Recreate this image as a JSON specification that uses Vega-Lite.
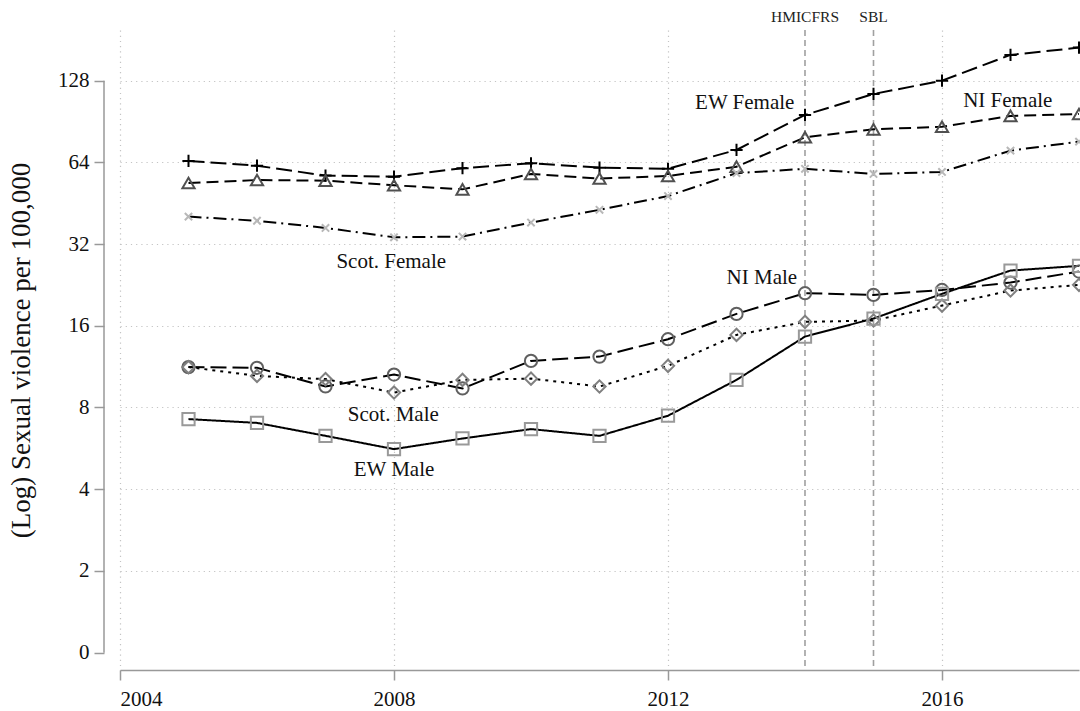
{
  "$schema": "https://vega.github.io/schema/vega-lite/v6.json",
  "width": 959,
  "height": 640,
  "autosize": "none",
  "padding": {"left": 120, "top": 30, "right": 1, "bottom": 41},
  "background": "white",
  "config": {
    "view": {"stroke": null},
    "font": "Liberation Serif"
  },
  "datasets": {
    "rates": [
      {"year": 2005, "series": "EW Female", "value": 64.8},
      {"year": 2006, "series": "EW Female", "value": 62.2},
      {"year": 2007, "series": "EW Female", "value": 57.2},
      {"year": 2008, "series": "EW Female", "value": 56.7},
      {"year": 2009, "series": "EW Female", "value": 60.9},
      {"year": 2010, "series": "EW Female", "value": 63.5},
      {"year": 2011, "series": "EW Female", "value": 61.2},
      {"year": 2012, "series": "EW Female", "value": 60.6},
      {"year": 2013, "series": "EW Female", "value": 71.1},
      {"year": 2014, "series": "EW Female", "value": 95.7},
      {"year": 2015, "series": "EW Female", "value": 114.3},
      {"year": 2016, "series": "EW Female", "value": 128.0},
      {"year": 2017, "series": "EW Female", "value": 159.2},
      {"year": 2018, "series": "EW Female", "value": 169.4},
      {"year": 2005, "series": "NI Female", "value": 53.7},
      {"year": 2006, "series": "NI Female", "value": 55.1},
      {"year": 2007, "series": "NI Female", "value": 54.8},
      {"year": 2008, "series": "NI Female", "value": 52.7},
      {"year": 2009, "series": "NI Female", "value": 50.9},
      {"year": 2010, "series": "NI Female", "value": 58.0},
      {"year": 2011, "series": "NI Female", "value": 55.8},
      {"year": 2012, "series": "NI Female", "value": 57.0},
      {"year": 2013, "series": "NI Female", "value": 61.7},
      {"year": 2014, "series": "NI Female", "value": 79.2},
      {"year": 2015, "series": "NI Female", "value": 84.7},
      {"year": 2016, "series": "NI Female", "value": 86.6},
      {"year": 2017, "series": "NI Female", "value": 94.9},
      {"year": 2018, "series": "NI Female", "value": 96.5},
      {"year": 2005, "series": "Scot. Female", "value": 40.4},
      {"year": 2006, "series": "Scot. Female", "value": 39.0},
      {"year": 2007, "series": "Scot. Female", "value": 36.7},
      {"year": 2008, "series": "Scot. Female", "value": 33.9},
      {"year": 2009, "series": "Scot. Female", "value": 34.1},
      {"year": 2010, "series": "Scot. Female", "value": 38.4},
      {"year": 2011, "series": "Scot. Female", "value": 42.8},
      {"year": 2012, "series": "Scot. Female", "value": 48.1},
      {"year": 2013, "series": "Scot. Female", "value": 58.4},
      {"year": 2014, "series": "Scot. Female", "value": 60.6},
      {"year": 2015, "series": "Scot. Female", "value": 58.0},
      {"year": 2016, "series": "Scot. Female", "value": 59.0},
      {"year": 2017, "series": "Scot. Female", "value": 70.7},
      {"year": 2018, "series": "Scot. Female", "value": 76.3},
      {"year": 2005, "series": "NI Male", "value": 11.27},
      {"year": 2006, "series": "NI Male", "value": 11.2},
      {"year": 2007, "series": "NI Male", "value": 9.56},
      {"year": 2008, "series": "NI Male", "value": 10.58},
      {"year": 2009, "series": "NI Male", "value": 9.4},
      {"year": 2010, "series": "NI Male", "value": 11.88},
      {"year": 2011, "series": "NI Male", "value": 12.32},
      {"year": 2012, "series": "NI Male", "value": 14.28},
      {"year": 2013, "series": "NI Male", "value": 17.7},
      {"year": 2014, "series": "NI Male", "value": 21.1},
      {"year": 2015, "series": "NI Male", "value": 20.79},
      {"year": 2016, "series": "NI Male", "value": 21.69},
      {"year": 2017, "series": "NI Male", "value": 23.09},
      {"year": 2018, "series": "NI Male", "value": 25.34},
      {"year": 2005, "series": "Scot. Male", "value": 11.27},
      {"year": 2006, "series": "Scot. Male", "value": 10.46},
      {"year": 2007, "series": "Scot. Male", "value": 10.18},
      {"year": 2008, "series": "Scot. Male", "value": 9.08},
      {"year": 2009, "series": "Scot. Male", "value": 10.11},
      {"year": 2010, "series": "Scot. Male", "value": 10.22},
      {"year": 2011, "series": "Scot. Male", "value": 9.56},
      {"year": 2012, "series": "Scot. Male", "value": 11.39},
      {"year": 2013, "series": "Scot. Male", "value": 14.81},
      {"year": 2014, "series": "Scot. Male", "value": 16.54},
      {"year": 2015, "series": "Scot. Male", "value": 16.73},
      {"year": 2016, "series": "Scot. Male", "value": 18.99},
      {"year": 2017, "series": "Scot. Male", "value": 21.57},
      {"year": 2018, "series": "Scot. Male", "value": 22.64},
      {"year": 2005, "series": "EW Male", "value": 7.25},
      {"year": 2006, "series": "EW Male", "value": 7.02},
      {"year": 2007, "series": "EW Male", "value": 6.29},
      {"year": 2008, "series": "EW Male", "value": 5.62},
      {"year": 2009, "series": "EW Male", "value": 6.15},
      {"year": 2010, "series": "EW Male", "value": 6.66},
      {"year": 2011, "series": "EW Male", "value": 6.29},
      {"year": 2012, "series": "EW Male", "value": 7.46},
      {"year": 2013, "series": "EW Male", "value": 10.11},
      {"year": 2014, "series": "EW Male", "value": 14.6},
      {"year": 2015, "series": "EW Male", "value": 17.01},
      {"year": 2016, "series": "EW Male", "value": 20.98},
      {"year": 2017, "series": "EW Male", "value": 25.56},
      {"year": 2018, "series": "EW Male", "value": 26.6}
    ],
    "seriesLabels": [
      {"text": "EW Female", "year": 2013.12, "value": 105.9},
      {"text": "NI Female", "year": 2016.96, "value": 107.8},
      {"text": "Scot. Female", "year": 2007.96, "value": 27.5},
      {"text": "NI Male", "year": 2013.37, "value": 24.0},
      {"text": "Scot. Male", "year": 2007.99, "value": 7.52},
      {"text": "EW Male", "year": 2008.0, "value": 4.71}
    ],
    "events": [
      {"year": 2014, "name": "HMICFRS"},
      {"year": 2015, "name": "SBL"}
    ],
    "yAxisSpan": [{"lo": 1, "hi": 128}]
  },
  "layer": [
    {
      "data": {"name": "yAxisSpan"},
      "mark": {"type": "rule", "color": "#999", "strokeWidth": 1.5, "xOffset": -16},
      "encoding": {
        "x": {
          "datum": 2004,
          "type": "quantitative",
          "scale": {"domain": [2004, 2018], "nice": false, "zero": false},
          "axis": {
            "title": null,
            "values": [2004, 2008, 2012, 2016],
            "format": "d",
            "labelFont": "Liberation Serif",
            "labelFontSize": 21,
            "labelColor": "#111",
            "labelPadding": 8,
            "tickSize": 10,
            "tickColor": "#999",
            "tickWidth": 1.5,
            "domainColor": "#999",
            "domainWidth": 1.5,
            "grid": true,
            "gridColor": "#c4c4c4",
            "gridDash": [1.2, 4],
            "gridWidth": 1.2
          }
        },
        "y": {
          "field": "lo",
          "type": "quantitative",
          "scale": {"type": "log", "base": 2, "domain": [0.863, 196.7], "nice": false},
          "axis": {
            "title": "(Log) Sexual violence per 100,000",
            "titleFont": "Liberation Serif",
            "titleFontSize": 27,
            "titleFontWeight": "normal",
            "titleColor": "#111",
            "titlePadding": 22,
            "values": [1, 2, 4, 8, 16, 32, 64, 128],
            "format": "d",
            "labelExpr": "datum.value == 1 ? '0' : datum.label",
            "labelFont": "Liberation Serif",
            "labelFontSize": 21,
            "labelColor": "#111",
            "labelPadding": 5,
            "offset": 16,
            "domain": false,
            "tickSize": 10,
            "tickColor": "#999",
            "tickWidth": 1.5,
            "grid": true,
            "gridColor": "#c4c4c4",
            "gridDash": [1.2, 4],
            "gridWidth": 1.2,
            "gridOpacity": {"condition": {"test": "datum.value == 1", "value": 0}, "value": 1}
          }
        },
        "y2": {"field": "hi"}
      }
    },
    {
      "data": {"name": "events"},
      "mark": {"type": "rule", "color": "#a0a0a0", "strokeWidth": 1.6, "strokeDash": [6, 4]},
      "encoding": {
        "x": {"field": "year", "type": "quantitative"}
      }
    },
    {
      "data": {"name": "events"},
      "mark": {"type": "text", "font": "Liberation Serif", "fontSize": 15.5, "color": "#222", "baseline": "middle", "align": "center"},
      "encoding": {
        "x": {"field": "year", "type": "quantitative"},
        "y": {"datum": 220},
        "text": {"field": "name", "type": "nominal"}
      }
    },
    {
      "data": {"name": "rates"},
      "mark": {"type": "line", "color": "black", "strokeWidth": 2},
      "encoding": {
        "x": {"field": "year", "type": "quantitative"},
        "y": {"field": "value", "type": "quantitative"},
        "detail": {"field": "series"},
        "strokeDash": {
          "field": "series",
          "type": "nominal",
          "scale": {
            "domain": ["EW Female", "NI Female", "Scot. Female", "NI Male", "Scot. Male", "EW Male"],
            "range": [[16, 6], [12, 6], [13, 5, 2, 5], [16, 6], [3, 5], [1, 0]]
          },
          "legend": null
        }
      }
    },
    {
      "data": {"name": "rates"},
      "mark": {"type": "point", "filled": false, "strokeWidth": 2, "opacity": 1},
      "encoding": {
        "x": {"field": "year", "type": "quantitative"},
        "y": {"field": "value", "type": "quantitative"},
        "shape": {
          "field": "series",
          "type": "nominal",
          "scale": {
            "domain": ["EW Female", "NI Female", "Scot. Female", "NI Male", "Scot. Male", "EW Male"],
            "range": ["M-1,0L1,0M0,-1L0,1", "triangle-up", "M-0.6,-0.6L0.6,0.6M-0.6,0.6L0.6,-0.6", "circle", "diamond", "square"]
          },
          "legend": null
        },
        "stroke": {
          "field": "series",
          "type": "nominal",
          "scale": {
            "domain": ["EW Female", "NI Female", "Scot. Female", "NI Male", "Scot. Male", "EW Male"],
            "range": ["#000000", "#505050", "#b8b8b8", "#606060", "#808080", "#999999"]
          },
          "legend": null
        },
        "size": {
          "field": "series",
          "type": "nominal",
          "scale": {
            "domain": ["EW Female", "NI Female", "Scot. Female", "NI Male", "Scot. Male", "EW Male"],
            "range": [150, 150, 100, 115, 210, 115]
          },
          "legend": null
        }
      }
    },
    {
      "data": {"name": "seriesLabels"},
      "mark": {"type": "text", "font": "Liberation Serif", "fontSize": 21, "color": "#111", "baseline": "middle", "align": "center"},
      "encoding": {
        "x": {"field": "year", "type": "quantitative"},
        "y": {"field": "value", "type": "quantitative"},
        "text": {"field": "text", "type": "nominal"}
      }
    }
  ]
}
